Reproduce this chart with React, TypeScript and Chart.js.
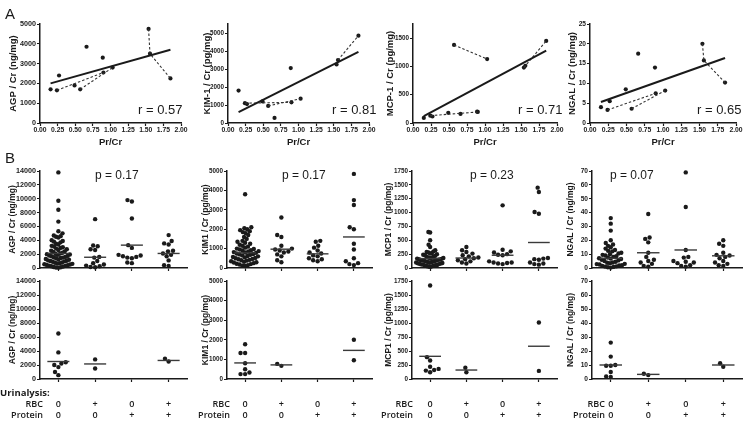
import React, { useEffect, useRef } from 'react';
import { Chart, registerables } from 'chart.js';

Chart.register(...registerables);

// ---------------- data ----------------
// Panel A: Pr/Cr of each sample (shared by the four correlation plots)
const prCr = [0.15, 0.24, 0.27, 0.49, 0.57, 0.66, 0.89, 0.9, 1.03, 1.54, 1.56, 1.85];
const agpCorr = [1700, 1650, 2400, 1900, 1700, 3850, 3300, 2550, 2800, 4750, 3500, 2250];
const kimCorr = [1800, 1100, 1050, 1200, 950, 280, 3050, 1150, 1350, 3250, 3500, 4850];
const mcpCorr = [90, 130, 115, 180, 1380, 160, 200, 195, 1130, 980, 1010, 1450];
const ngalCorr = [4.0, 3.3, 5.5, 8.5, 3.6, 17.5, 14, 7.5, 8.2, 20, 15.8, 10.2];
// repeated samples of the same patient (indices into prCr)
const patientLinks = [[1, 7], [4, 8], [9, 10, 11]];
// regression line ends
const fitX = [0.15, 1.85];
const agpFit = [2000, 3700];
const kimFit = [600, 3950];
const mcpFit = [120, 1280];
const ngalFit = [5.3, 16.4];
const rValues = ['0.57', '0.81', '0.71', '0.65'];

// Panel B: urinalysis groups
const rbcRow = ['0', '+', '0', '+'];
const proteinRow = ['0', '0', '+', '+'];
const pValues = ['0.17', '0.17', '0.23', '0.07'];

const agpAll = [
  [13800, 9700, 8400, 6700, 5300, 5000, 4700, 4600, 4500, 4400, 4000, 3900, 3800, 3700, 3500, 3400, 3200, 3100, 3000, 2900, 2800, 2700, 2600, 2500, 2400, 2300, 2200, 2100, 2050, 2000, 1950, 1900, 1800, 1750, 1700, 1600, 1550, 1500, 1450, 1400, 1300, 1250, 1200, 1100, 1050, 1000, 950, 900, 800, 750, 700, 650, 600, 550, 500, 450, 400, 350, 300, 250, 200, 150, 100, 80, 50],
  [7050, 3250, 3150, 2700, 2600, 1600, 1500, 1000, 700, 500, 350, 250, 150, 100],
  [9800, 9600, 7150, 3300, 2900, 1900, 1800, 1700, 1600, 1500, 1400, 800, 700],
  [4750, 3900, 3550, 3400, 2500, 2400, 2100, 1900, 1700, 1100, 400, 300],
];
const agpAllMed = [2100, 1550, 3300, 2100];

const kimAll = [
  [3800, 2100, 2050, 2000, 1950, 1900, 1850, 1800, 1700, 1600, 1500, 1400, 1350, 1300, 1250, 1200, 1150, 1100, 1050, 1000, 980, 950, 920, 900, 870, 850, 820, 800, 780, 750, 720, 700, 680, 650, 620, 600, 570, 550, 520, 500, 470, 450, 420, 400, 380, 350, 320, 300, 280, 250, 220, 200, 180, 150, 120, 100],
  [2600, 1700, 1600, 1150, 1000, 950, 900, 850, 800, 700, 600, 400, 300],
  [1400, 1350, 1150, 1050, 900, 800, 750, 650, 600, 500, 450, 400, 350],
  [4850, 3500, 3250, 2100, 2000, 1250, 950, 500, 350, 250, 200, 150],
];
const kimAllMed = [780, 970, 730, 1600];

const mcpAll = [
  [650, 640, 500, 420, 380, 320, 300, 290, 280, 270, 260, 250, 240, 230, 220, 210, 200, 190, 185, 180, 175, 170, 165, 160, 155, 150, 145, 140, 135, 130, 125, 120, 115, 110, 105, 100, 95, 90, 85, 80, 75, 70, 65, 60, 55, 50, 45, 40, 35, 30, 25, 20],
  [380, 320, 290, 260, 230, 210, 190, 175, 160, 140, 120, 100, 80],
  [1130, 330, 300, 280, 250, 240, 230, 120, 100, 100, 90, 80, 70],
  [1450, 1370, 1010, 980, 180, 170, 160, 150, 100, 80, 70, 60],
];
const mcpAllMed = [170, 180, 230, 460];

const ngalAll = [
  [36, 32, 27, 20, 18, 17, 16, 15, 14, 13, 12.5, 12, 11, 10.5, 10, 9.5, 9, 8.5, 8, 7.5, 7, 6.8, 6.5, 6, 5.5, 5, 4.5, 4, 3.8, 3.5, 3, 2.8, 2.5, 2, 1.8, 1.5, 1.2, 1, 0.8, 0.5, 0.3],
  [39, 22, 21, 18.5, 11, 8, 6, 5, 4, 3, 1.5, 1],
  [69, 44, 13, 8, 7.5, 5, 4.5, 4, 3.5, 2, 1.5, 1],
  [20, 17.5, 16, 11, 9.5, 9, 8, 7, 5, 4, 3, 2, 1.5],
];
const ngalAllMed = [7, 11, 13, 8.8];

const agpSub = [[6500, 3800, 2400, 2200, 2000, 1700, 1000, 550], [2800, 1500], [], [2500, 2900]];
const agpSubMed = [2500, 2150, null, 2650];
const kimSub = [[1770, 1330, 1330, 800, 500, 330, 250, 250], [670, 770], [], [2000, 960]];
const kimSubMed = [820, 720, null, 1460];
const mcpSub = [[1670, 390, 330, 220, 180, 160, 150, 120], [200, 120], [], [1010, 145]];
const mcpSubMed = [405, 160, null, 585];
const ngalSub = [[26, 16, 10, 9.5, 9.5, 5, 1.8, 1.5], [2.8, 3.8], [], [8.8, 11.2]];
const ngalSubMed = [10, 3.3, null, 10];

const groupTicks = [1, 2, 3, 4];

// ---------------- styling ----------------
const INK = '#1a1a1a';
const SANS = '"Liberation Sans", Arial, Helvetica, sans-serif';
const OPEN = '"Open Sans", "DejaVu Sans", sans-serif';

type Geo = { L: number; R: number; T: number; B: number; titleX: number; tick: number; padT: number; padR: number; yw: number; xh: number };

const tickFont = (size: number) => ({ family: SANS, size, weight: 'bold' as const });

function stepTicks(max: number, step: number) {
  const out: { value: number }[] = [];
  for (let k = 0; k * step <= max + 1e-9; k++) out.push({ value: Math.round(k * step * 1000) / 1000 });
  return out;
}

function yAxis(geo: Geo, max: number, step: number, title: string, titleSize: number) {
  const lh = titleSize * 1.2;
  return {
    type: 'linear',
    position: 'left',
    min: 0,
    max,
    afterBuildTicks: (s: any) => { s.ticks = stepTicks(max, step); },
    border: { display: true, color: INK, width: 1.5 },
    grid: { display: true, drawOnChartArea: false, drawTicks: true, tickLength: 3, tickWidth: 1.2, tickColor: INK },
    ticks: { autoSkip: false, padding: 1, color: INK, font: tickFont(geo.tick), callback: (v: number) => String(v) },
    title: {
      display: true,
      text: title,
      color: INK,
      font: { family: SANS, size: titleSize, weight: 'bold' },
      padding: { top: geo.titleX - (geo.L - geo.yw) - lh / 2, bottom: 0 },
    },
    afterFit: (s: any) => { s.width = geo.yw; },
  };
}

function baseOptions(geo: Geo, x: any, y: any) {
  return {
    animation: false,
    responsive: false,
    maintainAspectRatio: false,
    events: [],
    layout: { padding: { left: 0, top: geo.padT, right: geo.padR, bottom: 0 } },
    plugins: { legend: { display: false }, tooltip: { enabled: false } },
    scales: { x, y },
  };
}

// beeswarm layout: horizontal offsets so that dots of one column do not overlap,
// squeezed to at most `cap` pixels either side of the column centre
function swarmOffsets(vals: number[], pxPerY: number, pxPerX: number, d: number, cap: number): number[] {
  const order = vals.map((_, i) => i).sort((a, b) => vals[a] - vals[b]);
  const placed: { x: number; y: number }[] = [];
  const px = new Array(vals.length).fill(0);
  for (const i of order) {
    const y = vals[i] * pxPerY;
    const near = placed.filter((p) => Math.abs(p.y - y) < d);
    const cands = [0];
    for (const p of near) {
      const dx = Math.sqrt(d * d - (p.y - y) * (p.y - y));
      cands.push(p.x + dx, p.x - dx);
    }
    cands.sort((a, b) => Math.abs(a) - Math.abs(b) || a - b);
    let x = 0;
    for (const c of cands) {
      if (near.every((p) => (p.x - c) * (p.x - c) + (p.y - y) * (p.y - y) >= d * d - 1e-6)) { x = c; break; }
    }
    placed.push({ x, y });
    px[i] = x;
  }
  const widest = Math.max(1e-9, ...px.map((v) => Math.abs(v)));
  const k = widest > cap ? cap / widest : 1;
  return px.map((v) => (v * k) / pxPerX);
}

function corrConfig(geo: Geo, ys: number[], fit: number[], max: number, step: number, title: string) {
  const datasets: any[] = [
    { data: prCr.map((x, i) => ({ x, y: ys[i] })), pointRadius: 2.1, backgroundColor: INK, borderWidth: 0, clip: false, order: 1 },
    { data: fitX.map((x, i) => ({ x, y: fit[i] })), showLine: true, borderColor: INK, borderWidth: 2, pointRadius: 0, clip: false, order: 0 },
  ];
  patientLinks.forEach((idx) =>
    datasets.push({
      data: idx.map((i) => ({ x: prCr[i], y: ys[i] })),
      showLine: true, borderColor: '#333', borderWidth: 1.1, borderDash: [2.5, 2], pointRadius: 0, clip: false, order: 0,
    })
  );
  const x = {
    type: 'linear',
    position: 'bottom',
    min: 0,
    max: 2,
    afterBuildTicks: (s: any) => { s.ticks = stepTicks(2, 0.25); },
    border: { display: true, color: INK, width: 1.5 },
    grid: { display: true, drawOnChartArea: false, drawTicks: true, tickLength: 3, tickWidth: 1.2, tickColor: INK },
    ticks: { padding: 0.5, autoSkip: false, maxRotation: 0, color: INK, font: tickFont(6.8), callback: (v: number) => v.toFixed(2) },
    title: { display: true, text: 'Pr/Cr', color: INK, font: { family: SANS, size: 9.5, weight: 'bold' }, padding: { top: 0, bottom: 1 } },
    afterFit: (s: any) => { s.height = geo.xh; },
  };
  return { type: 'scatter', data: { datasets }, options: baseOptions(geo, x, yAxis(geo, max, step, title, 9.5)) };
}

function dotConfig(geo: Geo, groups: number[][], meds: (number | null)[], max: number, step: number, title: string, urin: boolean) {
  const pxY = (geo.B - geo.T) / max;
  const pxX = (geo.R - geo.L) / 4;
  const pts: { x: number; y: number }[] = [];
  groups.forEach((vals, g) => {
    const off = swarmOffsets(vals, pxY, pxX, 4.6, 14);
    vals.forEach((v, i) => pts.push({ x: groupTicks[g] + off[i], y: v }));
  });
  const datasets: any[] = [{ data: pts, pointRadius: 2.2, backgroundColor: INK, borderWidth: 0, clip: false, order: 1 }];
  meds.forEach((m, g) => {
    if (m == null) return;
    datasets.push({
      data: [{ x: groupTicks[g] - 0.3, y: m }, { x: groupTicks[g] + 0.3, y: m }],
      showLine: true, borderColor: '#3a3a3a', borderWidth: 1.4, pointRadius: 0, clip: false, order: 0,
    });
  });
  const x = {
    type: 'linear',
    position: 'bottom',
    min: 0.5,
    max: 4.5,
    afterBuildTicks: (s: any) => { s.ticks = groupTicks.map((value) => ({ value })); },
    border: { display: true, color: INK, width: 1.5 },
    grid: { display: true, drawOnChartArea: false, drawTicks: true, tickLength: 3, tickWidth: 1.2, tickColor: INK },
    ticks: {
      autoSkip: false,
      maxRotation: 0,
      padding: 17,
      color: INK,
      font: { family: OPEN, size: 9, weight: '600', lineHeight: 1.25 },
      callback: (_v: number, i: number) => (urin ? [rbcRow[i], proteinRow[i]] : ''),
    },
    afterFit: (s: any) => { s.height = geo.xh; },
  };
  return { type: 'scatter', data: { datasets }, options: baseOptions(geo, x, yAxis(geo, max, step, title, 8.5)) };
}

function ChartBox({ geo, build }: { geo: Geo; build: () => any }) {
  const ref = useRef<HTMLCanvasElement>(null);
  const w = geo.R - geo.L + geo.yw + geo.padR;
  const h = geo.B - geo.T + geo.padT + geo.xh;
  useEffect(() => {
    const chart = new Chart(ref.current as HTMLCanvasElement, build());
    return () => chart.destroy();
  }, []);
  return (
    <canvas
      ref={ref}
      width={w}
      height={h}
      style={{ position: 'absolute', left: geo.L - geo.yw, top: geo.T - geo.padT, width: w, height: h }}
    />
  );
}

// ---------------- layout ----------------
const cols = [
  { L: 40, R: 187, titleX: 13, tick: 7.2 },
  { L: 227, R: 372, titleX: 206, tick: 6.3 },
  { L: 412, R: 557, titleX: 389, tick: 6.3 },
  { L: 592, R: 742, titleX: 571, tick: 6.6 },
];
const topCols = [
  { L: 40, R: 181, titleX: 13, tick: 7.2 },
  { L: 228, R: 369, titleX: 207, tick: 6.3 },
  { L: 413, R: 557, titleX: 390, tick: 6.3 },
  { L: 590, R: 736, titleX: 572, tick: 6.6 },
];
const geoA = (i: number): Geo => ({ ...topCols[i], T: 24, B: 123, padT: 8, padR: 10, yw: 40, xh: 26 });
const geoB = (i: number): Geo => ({ ...cols[i], T: 171, B: 268, padT: 8, padR: 6, yw: 40, xh: 8 });
const geoC = (i: number): Geo => ({ ...cols[i], T: 281, B: 379, padT: 8, padR: 6, yw: 40, xh: 43 });

const corrSpecs = [
  { ys: agpCorr, fit: agpFit, max: 5000, step: 1000, title: 'AGP / Cr (ng/mg)' },
  { ys: kimCorr, fit: kimFit, max: 5500, step: 1000, title: 'KIM-1 / Cr (pg/mg)' },
  { ys: mcpCorr, fit: mcpFit, max: 1750, step: 500, title: 'MCP-1 / Cr (pg/mg)' },
  { ys: ngalCorr, fit: ngalFit, max: 25, step: 5, title: 'NGAL / Cr (ng/mg)' },
];
const dotSpecs = [
  { all: agpAll, allMed: agpAllMed, sub: agpSub, subMed: agpSubMed, max: 14000, step: 2000, title: 'AGP / Cr (ng/mg)' },
  { all: kimAll, allMed: kimAllMed, sub: kimSub, subMed: kimSubMed, max: 5000, step: 1000, title: 'KIM1 / Cr (pg/mg)' },
  { all: mcpAll, allMed: mcpAllMed, sub: mcpSub, subMed: mcpSubMed, max: 1750, step: 250, title: 'MCP1 / Cr (pg/mg)' },
  { all: ngalAll, allMed: ngalAllMed, sub: ngalSub, subMed: ngalSubMed, max: 70, step: 10, title: 'NGAL / Cr (ng/mg)' },
];

const rLabelLeft = [138, 332, 518, 697];
const pLabelLeft = [95, 282, 470, 610];
const rowLabelRight = [43, 230, 413, 605];

const txt = (extra: React.CSSProperties): React.CSSProperties => ({
  position: 'absolute', whiteSpace: 'nowrap', color: INK, lineHeight: 1, ...extra,
});

export default function App() {
  return (
    <div style={{ position: 'fixed', left: 0, top: 0, width: 750, height: 422, background: '#fff', overflow: 'hidden' }}>
      {corrSpecs.map((s, i) => (
        <ChartBox key={'a' + i} geo={geoA(i)} build={() => corrConfig(geoA(i), s.ys, s.fit, s.max, s.step, s.title)} />
      ))}
      {dotSpecs.map((s, i) => (
        <ChartBox key={'b' + i} geo={geoB(i)} build={() => dotConfig(geoB(i), s.all, s.allMed, s.max, s.step, s.title, false)} />
      ))}
      {dotSpecs.map((s, i) => (
        <ChartBox key={'c' + i} geo={geoC(i)} build={() => dotConfig(geoC(i), s.sub, s.subMed, s.max, s.step, s.title, true)} />
      ))}

      <div style={txt({ left: 5, top: 6, fontFamily: SANS, fontSize: 15 })}>A</div>
      <div style={txt({ left: 5, top: 150, fontFamily: SANS, fontSize: 15 })}>B</div>

      {rValues.map((r, i) => (
        <div key={'r' + i} style={txt({ left: rLabelLeft[i], top: 103, fontFamily: SANS, fontSize: 13 })}>{'r = ' + r}</div>
      ))}
      {pValues.map((p, i) => (
        <div key={'p' + i} style={txt({ left: pLabelLeft[i], top: 169, fontFamily: SANS, fontSize: 12 })}>{'p = ' + p}</div>
      ))}

      <div style={txt({ left: 0, top: 388, fontFamily: OPEN, fontSize: 9.5, fontWeight: 700 })}>Urinalysis:</div>
      {rowLabelRight.map((r, i) => (
        <React.Fragment key={'u' + i}>
          <div style={txt({ left: r - 60, width: 60, textAlign: 'right', top: 399, fontFamily: OPEN, fontSize: 9, fontWeight: 600 })}>RBC</div>
          <div style={txt({ left: r - 60, width: 60, textAlign: 'right', top: 410, fontFamily: OPEN, fontSize: 9, fontWeight: 600 })}>Protein</div>
        </React.Fragment>
      ))}
    </div>
  );
}
